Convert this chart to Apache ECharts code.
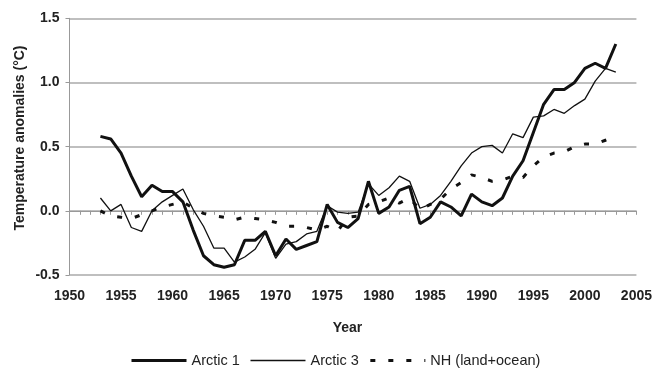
<!DOCTYPE html>
<html>
<head>
<meta charset="utf-8">
<script src="https://cdn.jsdelivr.net/npm/echarts@6/dist/echarts.min.js"></script>
<style>
  html, body { margin: 0; padding: 0; background: #fff; }
  #chart { width: 655px; height: 369px; }
</style>
</head>
<body>
<div id="chart"></div>
<script>
// Annual temperature anomalies (°C), 1953–2003
const years = [];
for (let y = 1953; y <= 2003; y++) years.push(y);

const arctic1 = [
  0.58, 0.56, 0.45, 0.27, 0.11, 0.20, 0.15, 0.15, 0.07, -0.15,
  -0.35, -0.42, -0.44, -0.42, -0.23, -0.23, -0.16, -0.35, -0.22, -0.30,
  -0.27, -0.24, 0.05, -0.09, -0.13, -0.06, 0.23, -0.02, 0.03, 0.16,
  0.19, -0.10, -0.05, 0.07, 0.03, -0.04, 0.13, 0.07, 0.04, 0.10,
  0.27, 0.39, 0.61, 0.83, 0.945, 0.945, 1.00, 1.11, 1.15, 1.11,
  1.30
];

const arctic3 = [
  0.10, 0.00, 0.05, -0.13, -0.16, 0.00, 0.07, 0.12, 0.17, 0.01,
  -0.12, -0.29, -0.29, -0.40, -0.36, -0.30, -0.17, -0.37, -0.26, -0.24,
  -0.18, -0.16, 0.04, -0.01, -0.02, -0.01, 0.21, 0.12, 0.18, 0.27,
  0.23, 0.02, 0.05, 0.12, 0.23, 0.35, 0.45, 0.50, 0.51, 0.45,
  0.60, 0.57, 0.73, 0.74, 0.79, 0.76, 0.82, 0.87, 1.01, 1.11,
  1.08
];

const nhLandOcean = [
  0.00, -0.04, -0.05, -0.06, -0.03, 0.00, 0.03, 0.05, 0.07, 0.02,
  -0.02, -0.04, -0.05, -0.07, -0.05, -0.06, -0.07, -0.09, -0.12, -0.12,
  -0.13, -0.15, -0.12, -0.16, -0.05, -0.04, 0.05, 0.07, 0.10, 0.06,
  0.10, 0.01, 0.05, 0.09, 0.17, 0.22, 0.28, 0.26, 0.23, 0.24,
  0.27, 0.26, 0.35, 0.42, 0.45, 0.46, 0.50, 0.52, 0.52, 0.55,
  0.58
];

const seriesNames = ['Arctic 1', 'Arctic 3', 'NH (land+ocean)'];
const xTicks = { min: 1950, max: 2005, step: 5 };
const yTicks = { min: -0.5, max: 1.5, step: 0.5 };

const FONT = '"Liberation Sans", Arial, sans-serif';
const INK = '#111';
const GRID_GRAY = '#aaaaaa';

// stroke styles shared by each series and its legend sample
const thickLine = { color: INK, width: 3 };
const thinLine = { color: INK, width: 1.3 };
const dashLine = { color: INK, width: 3, type: [5, 13] };

const pairs = vals => vals.map((v, i) => [years[i], v]);

const chart = echarts.init(document.getElementById('chart'), null, { renderer: 'canvas' });

chart.setOption({
  animation: false,
  backgroundColor: '#fff',
  textStyle: { fontFamily: FONT },
  grid: { left: 69.5, right: 15, top: 18.3, bottom: 94, containLabel: false },
  xAxis: {
    type: 'value',
    min: xTicks.min,
    max: xTicks.max,
    interval: xTicks.step,
    axisLine: { show: true, lineStyle: { color: '#999', width: 1 } },
    axisTick: { show: true, length: 4, lineStyle: { color: '#999' } },
    minorTick: { show: true, splitNumber: 5, length: 4, lineStyle: { color: '#999' } },
    splitLine: { show: false },
    axisLabel: {
      margin: 14,
      color: '#222',
      fontFamily: FONT,
      fontSize: 14,
      fontWeight: 'bold',
      formatter: v => String(v)
    }
  },
  yAxis: {
    type: 'value',
    min: yTicks.min,
    max: yTicks.max,
    interval: yTicks.step,
    axisLine: { show: true, lineStyle: { color: '#999', width: 1 } },
    axisTick: { show: true, length: 4, lineStyle: { color: '#999' } },
    splitLine: { show: true, lineStyle: { color: GRID_GRAY, width: 1.5 } },
    axisLabel: {
      margin: 10,
      color: '#222',
      fontFamily: FONT,
      fontSize: 14,
      fontWeight: 'bold',
      formatter: v => v.toFixed(1)
    }
  },
  legend: {
    left: 125,
    top: 348,
    itemWidth: 55,
    itemHeight: 12,
    itemGap: 10,
    // line samples only, no marker in the middle
    itemStyle: { opacity: 0, borderWidth: 0 },
    textStyle: { fontFamily: FONT, fontSize: 14.5, color: '#222' },
    data: [
      { name: seriesNames[0], lineStyle: thickLine },
      { name: seriesNames[1], lineStyle: thinLine },
      { name: seriesNames[2], lineStyle: dashLine }
    ]
  },
  graphic: [
    {
      type: 'text',
      x: 20, y: 138,
      rotation: Math.PI / 2,
      style: {
        text: 'Temperature anomalies (°C)',
        font: 'bold 14px ' + FONT,
        fill: '#222',
        align: 'center',
        verticalAlign: 'middle'
      }
    },
    {
      type: 'text',
      x: 347.5, y: 328,
      style: {
        text: 'Year',
        font: 'bold 14px ' + FONT,
        fill: '#222',
        align: 'center',
        verticalAlign: 'middle'
      }
    }
  ],
  series: [
    {
      name: seriesNames[0],
      type: 'line',
      data: pairs(arctic1),
      symbol: 'none',
      lineStyle: thickLine,
      itemStyle: { color: INK },
      z: 4
    },
    {
      name: seriesNames[1],
      type: 'line',
      data: pairs(arctic3),
      symbol: 'none',
      lineStyle: thinLine,
      itemStyle: { color: INK },
      z: 3
    },
    {
      name: seriesNames[2],
      type: 'line',
      data: pairs(nhLandOcean),
      symbol: 'none',
      lineStyle: dashLine,
      itemStyle: { color: INK },
      z: 2
    }
  ]
});
</script>
</body>
</html>
